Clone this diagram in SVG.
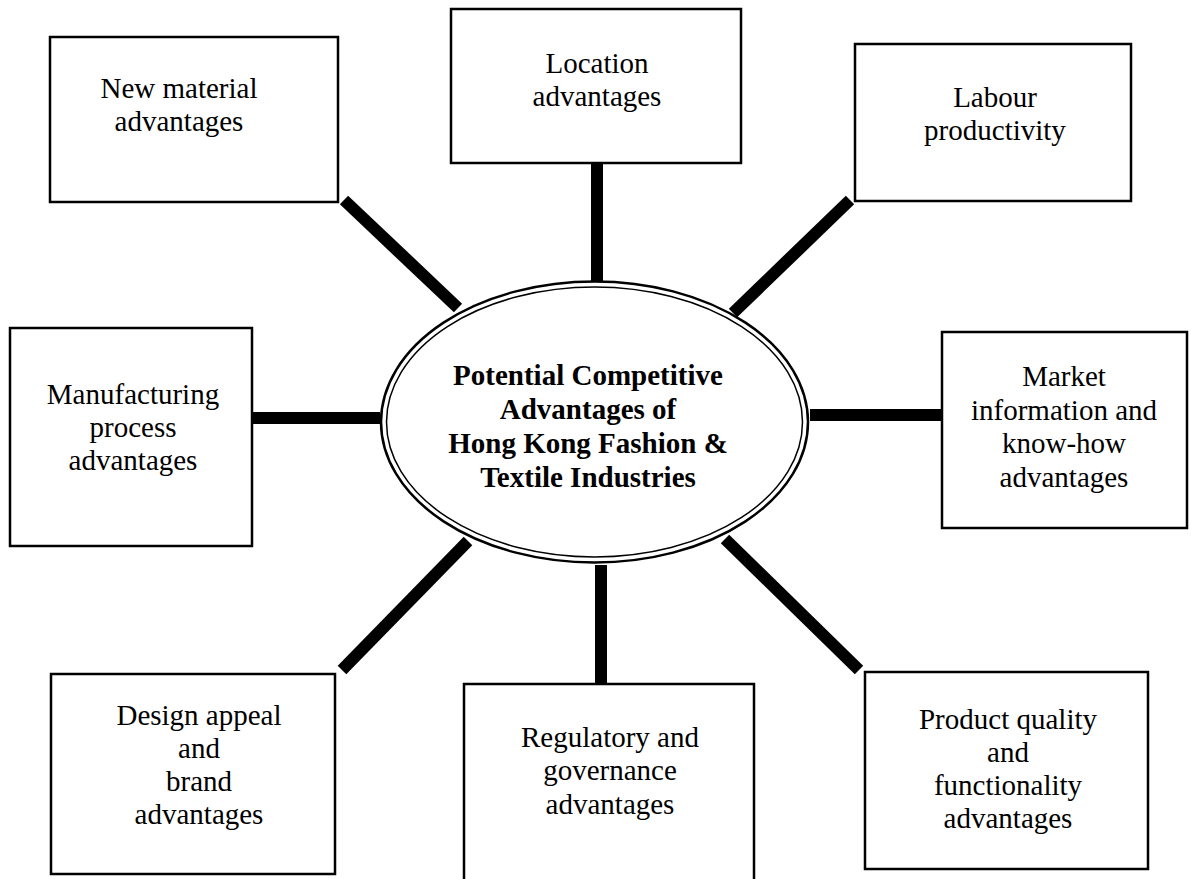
<svg xmlns="http://www.w3.org/2000/svg" width="1191" height="879" viewBox="0 0 1191 879">
<style>
.box{fill:#fff;stroke:#000;stroke-width:2.5}
.t{font-family:"Liberation Serif","Times New Roman",serif;font-size:29px;fill:#000;text-anchor:middle}
.b{font-weight:bold}
.c{stroke:#000;stroke-width:12;fill:none;stroke-linecap:butt}
</style>
<rect width="1191" height="879" fill="#fff"/>
<g id="connectors">
<line class="c" x1="344" y1="200" x2="458" y2="308"/>
<line class="c" x1="597" y1="163" x2="597" y2="282"/>
<line class="c" x1="850" y1="200" x2="733" y2="313"/>
<line class="c" x1="253" y1="418" x2="380" y2="418"/>
<line class="c" x1="810" y1="415" x2="942" y2="415"/>
<line class="c" x1="468" y1="541" x2="342" y2="670"/>
<line class="c" x1="601" y1="565" x2="601" y2="684"/>
<line class="c" x1="725" y1="539" x2="859" y2="670"/>
</g>
<g id="center">
<ellipse cx="594.5" cy="422" rx="213.5" ry="140.5" fill="#fff" stroke="#000" stroke-width="2.5"/>
<ellipse cx="594.5" cy="422" rx="208" ry="135" fill="none" stroke="#000" stroke-width="1.5"/>
<text class="t b" x="588"><tspan x="588" y="385">Potential Competitive</tspan><tspan x="588" y="419">Advantages of</tspan><tspan x="588" y="453">Hong Kong Fashion &amp;</tspan><tspan x="588" y="487">Textile Industries</tspan></text>
</g>
<g id="new-material">
<rect class="box" x="50" y="37" width="288" height="165"/>
<text class="t"><tspan x="179" y="98">New material</tspan><tspan x="179" y="131">advantages</tspan></text>
</g>
<g id="location">
<rect class="box" x="451" y="9" width="290" height="154"/>
<text class="t"><tspan x="597" y="73">Location</tspan><tspan x="597" y="106">advantages</tspan></text>
</g>
<g id="labour">
<rect class="box" x="855" y="44" width="276" height="157"/>
<text class="t"><tspan x="995" y="107">Labour</tspan><tspan x="995" y="140">productivity</tspan></text>
</g>
<g id="market">
<rect class="box" x="942" y="332" width="245" height="196"/>
<text class="t"><tspan x="1064" y="386">Market</tspan><tspan x="1064" y="420">information and</tspan><tspan x="1064" y="453">know-how</tspan><tspan x="1064" y="487">advantages</tspan></text>
</g>
<g id="manufacturing">
<rect class="box" x="10" y="328" width="242" height="218"/>
<text class="t"><tspan x="133" y="404">Manufacturing</tspan><tspan x="133" y="437">process</tspan><tspan x="133" y="470">advantages</tspan></text>
</g>
<g id="design">
<rect class="box" x="51" y="674" width="284" height="200"/>
<text class="t"><tspan x="199" y="725">Design appeal</tspan><tspan x="199" y="758">and</tspan><tspan x="199" y="791">brand</tspan><tspan x="199" y="824">advantages</tspan></text>
</g>
<g id="regulatory">
<rect class="box" x="464" y="684" width="290" height="200"/>
<text class="t"><tspan x="610" y="747">Regulatory and</tspan><tspan x="610" y="780">governance</tspan><tspan x="610" y="814">advantages</tspan></text>
</g>
<g id="product">
<rect class="box" x="865" y="672" width="283" height="197"/>
<text class="t"><tspan x="1008" y="729">Product quality</tspan><tspan x="1008" y="762">and</tspan><tspan x="1008" y="795">functionality</tspan><tspan x="1008" y="828">advantages</tspan></text>
</g>
</svg>
